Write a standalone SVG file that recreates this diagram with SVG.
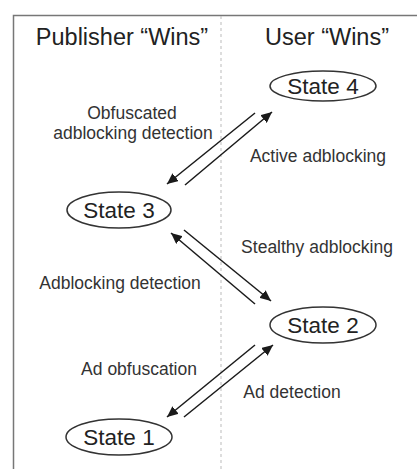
<svg xmlns="http://www.w3.org/2000/svg" width="417" height="469" viewBox="0 0 417 469">
<defs>
<marker id="ah" viewBox="0 0 11 10" refX="11" refY="5" markerWidth="11" markerHeight="10" markerUnits="userSpaceOnUse" orient="auto">
<path d="M0,0 L11,5 L0,10 z" fill="#1a1a1a"/>
</marker>
</defs>
<style>
.frame{stroke:#777;stroke-width:1.5;fill:none}
.divider{stroke:#bbb;stroke-width:1;stroke-dasharray:3,3;fill:none}
.title{font-family:"Liberation Sans",Arial,sans-serif;font-size:23.5px;fill:#222;text-anchor:middle}
.state ellipse{fill:#fff;stroke:#333;stroke-width:1.5}
.state text{font-family:"Liberation Sans",Arial,sans-serif;font-size:22.5px;fill:#222;text-anchor:middle}
.lbl{font-family:"Liberation Sans",Arial,sans-serif;font-size:17.5px;fill:#333;text-anchor:middle}
.conn line{stroke:#1a1a1a;stroke-width:1.5;marker-end:url(#ah)}
</style>
<rect width="417" height="469" fill="#fff"/>
<path class="frame" d="M13.5,469 V15.5 H417"/>
<line class="divider" x1="221" y1="16" x2="221" y2="469"/>
<text class="title" x="122" y="45">Publisher “Wins”</text>
<text class="title" x="327" y="45">User “Wins”</text>
<g id="connectors" class="conn">
<line x1="185" y1="185" x2="272" y2="112"/>
<line x1="255" y1="113" x2="167" y2="184"/>
<line x1="255" y1="304" x2="171" y2="233"/>
<line x1="184" y1="230" x2="271" y2="301"/>
<line x1="184" y1="417" x2="273" y2="345"/>
<line x1="255" y1="345" x2="167" y2="417"/>
</g>
<g id="labels">
<text class="lbl" x="132" y="119">Obfuscated</text>
<text class="lbl" x="133" y="139">adblocking detection</text>
<text class="lbl" x="318" y="162">Active adblocking</text>
<text class="lbl" x="317" y="253">Stealthy adblocking</text>
<text class="lbl" x="120" y="289">Adblocking detection</text>
<text class="lbl" x="139" y="375">Ad obfuscation</text>
<text class="lbl" x="292" y="398">Ad detection</text>
</g>
<g id="state4" class="state">
<ellipse cx="323" cy="86" rx="53" ry="15"/>
<text x="323" y="94">State 4</text>
</g>
<g id="state3" class="state">
<ellipse cx="119" cy="210" rx="52" ry="18"/>
<text x="119" y="218">State 3</text>
</g>
<g id="state2" class="state">
<ellipse cx="323" cy="325" rx="53" ry="18"/>
<text x="323" y="333">State 2</text>
</g>
<g id="state1" class="state">
<ellipse cx="119" cy="437" rx="53" ry="18"/>
<text x="119" y="445">State 1</text>
</g>
</svg>
